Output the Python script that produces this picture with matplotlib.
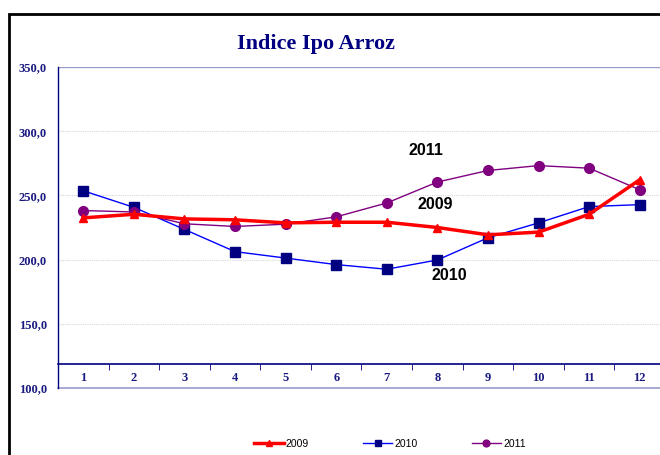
import matplotlib
matplotlib.use('Agg')
import matplotlib.pyplot as plt
from matplotlib.patches import Rectangle
from matplotlib.ticker import FixedLocator

months = list(range(1, 13))
idx_2009 = [232.5, 235.3, 231.7, 231.0, 228.6, 229.1, 229.1, 225.0, 219.3, 221.4, 235.3, 262.2]
idx_2010 = [253.6, 240.7, 223.5, 206.2, 201.2, 196.1, 192.5, 199.7, 217.0, 228.6, 241.3, 242.8]
idx_2011 = [238.2, 237.1, 227.9, 225.8, 227.6, 233.3, 244.1, 260.4, 269.4, 273.2, 271.2, 254.4]
yticks = [100, 150, 200, 250, 300, 350]

navy = "#000080"
serif = "Liberation Serif"

fig = plt.figure(figsize=(6.6, 4.55), dpi=100)
# outer frame of the chart (cropped at right/bottom)
fig.patches.append(Rectangle((9 / 660, -0.1), 1.2, (455 - 14) / 455 + 0.1,
                             transform=fig.transFigure, fill=False,
                             edgecolor="black", linewidth=2))

ax = fig.add_axes([58 / 660, (455 - 388) / 455, 607 / 660, 321 / 455])

ax.plot(months, idx_2010, color="#0000ff", linewidth=1, marker="s",
        markersize=7, markerfacecolor=navy, markeredgecolor=navy,
        label="2010", zorder=3)
ax.plot(months, idx_2011, color="#800080", linewidth=1, marker="o",
        markersize=7, markerfacecolor="#800080", markeredgecolor="#800080",
        label="2011", zorder=3)
ax.plot(months, idx_2009, color="#ff0000", linewidth=2.5, marker="^",
        markersize=6, markerfacecolor="#ff0000", markeredgecolor="#ff0000",
        label="2009", zorder=4)

ax.set_xlim(0.5, 12.5)
ax.set_ylim(100, 350)

for v in [150, 200, 250, 300]:
    ax.axhline(v, color="#d8d8d8", linewidth=0.8, linestyle=(0, (1, 1)), zorder=1)
ax.axhline(350, color="#9999cc", linewidth=1, zorder=1)
ax.axhline(100, color="#9999cc", linewidth=1.2, zorder=1, clip_on=False)

for s in ["top", "right"]:
    ax.spines[s].set_visible(False)
ax.spines["left"].set_color(navy)
ax.spines["left"].set_linewidth(1)
ax.spines["bottom"].set_position(("data", 119))
ax.spines["bottom"].set_color(navy)
ax.spines["bottom"].set_linewidth(1.2)

ax.set_xticks(months)
ax.set_xticklabels([str(m) for m in months])
ax.xaxis.set_minor_locator(FixedLocator([m + 0.5 for m in months]))
ax.tick_params(axis="x", which="major", length=0, pad=6)
ax.tick_params(axis="x", which="minor", length=4, color=navy, direction="out")
ax.set_yticks(yticks)
ax.set_yticklabels([f"{v},0" for v in yticks])
ax.tick_params(axis="y", length=0, pad=8)
for lab in ax.get_xticklabels() + ax.get_yticklabels():
    lab.set_fontfamily(serif)
    lab.set_fontweight("bold")
    lab.set_fontsize(9)
    lab.set_color("#1a1a80")

fig.text(316 / 660, (455 - 44) / 455, "Indice Ipo Arroz", ha="center",
         va="center", fontfamily=serif, fontweight="bold", fontsize=16,
         color=navy)

ax.text(7.42, 284.6, "2011", fontsize=11.5, fontweight="bold", color="black",
        fontfamily="Liberation Sans", va="center")
ax.text(7.61, 242.8, "2009", fontsize=11.5, fontweight="bold", color="black",
        fontfamily="Liberation Sans", va="center")
ax.text(7.89, 187.3, "2010", fontsize=11.5, fontweight="bold", color="black",
        fontfamily="Liberation Sans", va="center")

handles, labels = ax.get_legend_handles_labels()
order = [2, 0, 1]
fig.legend([handles[i] for i in order], [labels[i] for i in order],
           loc="center", bbox_to_anchor=(390 / 660, (455 - 444) / 455),
           ncol=3, frameon=False, handlelength=2.8,
           columnspacing=5.2, handletextpad=0.2, markerscale=0.7,
           prop={"family": "Liberation Sans", "size": 7.5})

fig.savefig("out.png", dpi=100)
